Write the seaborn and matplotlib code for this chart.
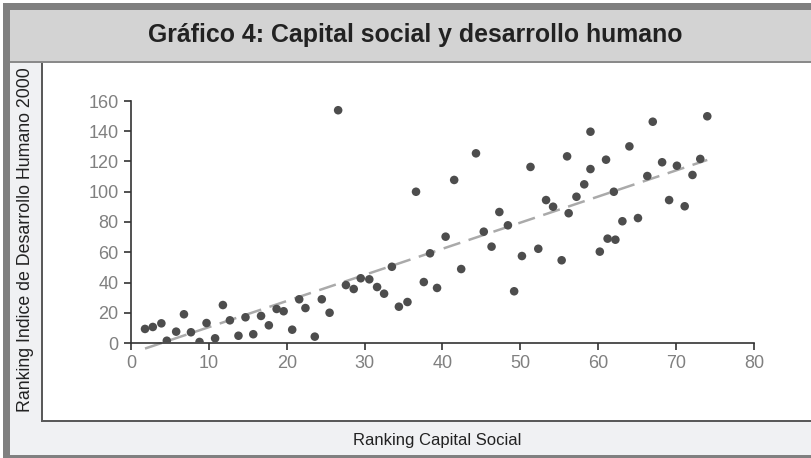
import numpy as np
import pandas as pd
import seaborn as sns
import matplotlib.pyplot as plt
from matplotlib.patches import Rectangle

# ======================
# data
# ======================
capital_social = [
    1.8, 2.8, 3.9, 4.6, 5.8, 6.8, 7.7, 8.8, 9.7, 10.8,
    11.8, 12.7, 13.8, 14.7, 15.7, 16.7, 17.7, 18.7, 19.6, 20.7,
    21.6, 22.4, 23.6, 24.5, 25.5, 26.6, 27.6, 28.6, 29.5, 30.6,
    31.6, 32.5, 33.5, 34.4, 35.5, 36.6, 37.6, 38.4, 39.3, 40.4,
    41.5, 42.4, 44.3, 45.3, 46.3, 47.3, 48.4, 49.2, 50.2, 51.3,
    52.3, 53.3, 54.2, 55.3, 56.0, 56.2, 57.2, 58.2, 59.0, 59.0,
    60.2, 61.0, 61.2, 62.0, 62.2, 63.1, 64.0, 65.1, 66.3, 67.0,
    68.2, 69.1, 70.1, 71.1, 72.1, 73.1, 74.0,
]
desarrollo_humano = [
    9.3, 10.6, 13.0, 1.5, 7.5, 19.0, 7.1, 0.7, 13.2, 3.1,
    25.1, 15.0, 4.8, 17.0, 5.8, 17.9, 11.7, 22.5, 21.0, 8.8,
    28.9, 23.1, 4.2, 28.9, 20.0, 153.9, 38.3, 35.7, 42.8, 42.1,
    37.0, 32.6, 50.4, 24.0, 27.1, 100.0, 40.3, 59.3, 36.4, 70.3,
    107.8, 48.9, 125.4, 73.6, 63.7, 86.6, 77.8, 34.2, 57.5, 116.4,
    62.3, 94.5, 90.1, 54.7, 123.4, 85.8, 96.7, 104.9, 139.7, 115.0,
    60.4, 121.2, 69.0, 100.0, 68.3, 80.5, 130.0, 82.6, 110.4, 146.3,
    119.5, 94.5, 117.2, 90.4, 111.1, 121.7, 149.9,
]
x_ticks = [0, 10, 20, 30, 40, 50, 60, 70, 80]
y_ticks = [0, 20, 40, 60, 80, 100, 120, 140, 160]

titulo = "Gráfico 4: Capital social y desarrollo humano"
etiqueta_x = "Ranking Capital Social"
etiqueta_y = "Ranking Indice de Desarrollo Humano 2000"

df = pd.DataFrame({"cs": capital_social, "idh": desarrollo_humano})

sns.set_theme(style="white")
plt.rcParams['font.family'] = ['Liberation Sans', 'DejaVu Sans']

W, H = 812, 458
fig = plt.figure(figsize=(W / 100, H / 100), dpi=100)
fig.patch.set_facecolor("white")


def px_rect(x0, y0, x1, y1, color, z=0):
    # rectangle in pixel coords (top-left origin)
    fig.add_artist(Rectangle((x0 / W, 1 - y1 / H), (x1 - x0) / W, (y1 - y0) / H,
                             transform=fig.transFigure, facecolor=color,
                             edgecolor="none", zorder=z))


# ======================
# frame / bands
# ======================
px_rect(3, 3, W, H, "#808080")           # outer border
px_rect(10, 10, W, 455, "#f0f1f3")       # light strips
px_rect(10, 10, W, 62, "#d3d3d3")        # title band
px_rect(10, 61, W, 63, "#8a8a8a")        # title separator
px_rect(41, 63, W, 422, "#5a5a5a")       # panel border
px_rect(43, 63, W, 420, "white")         # white panel

fig.text(415 / W, 1 - 35 / H, titulo, ha="center", va="center",
         fontsize=17.9, fontweight="bold", color="#222222")
fig.text(437 / W, 1 - 440 / H, etiqueta_x, ha="center", va="center",
         fontsize=12, color="#222222")
fig.text(26 / W, 1 - 240 / H, etiqueta_y, ha="center", va="center",
         rotation=90, fontsize=12.8, color="#222222")

# ======================
# plot
# ======================
ax = fig.add_axes([131 / W, 1 - 343 / H, (754 - 131) / W, (343 - 101) / H])
ax.set_facecolor("none")
ax.set_zorder(5)

sns.regplot(data=df, x="cs", y="idh", ax=ax, scatter=False, ci=None,
            line_kws=dict(color="#aaaaaa", lw=1.8, dashes=(7, 3.5)))
for ln in ax.lines:
    ln.set_clip_on(False)
sns.scatterplot(data=df, x="cs", y="idh", ax=ax, color="#4d4d4d",
                s=38, edgecolor="none", zorder=3)

ax.set_xlim(0, 80)
ax.set_ylim(0, 160)
ax.set_xticks(x_ticks)
ax.set_yticks(y_ticks)
ax.set_xlabel("")
ax.set_ylabel("")
for s in ["top", "right"]:
    ax.spines[s].set_visible(False)
for s in ["left", "bottom"]:
    ax.spines[s].set_color("#333333")
    ax.spines[s].set_linewidth(1.2)
ax.tick_params(axis="both", direction="out", length=5, width=1.2,
               color="#333333", labelcolor="#808080", labelsize=13, pad=4)
ax.tick_params(axis="both", which="both", bottom=True, left=True)

fig.savefig("out.png", dpi=100)
